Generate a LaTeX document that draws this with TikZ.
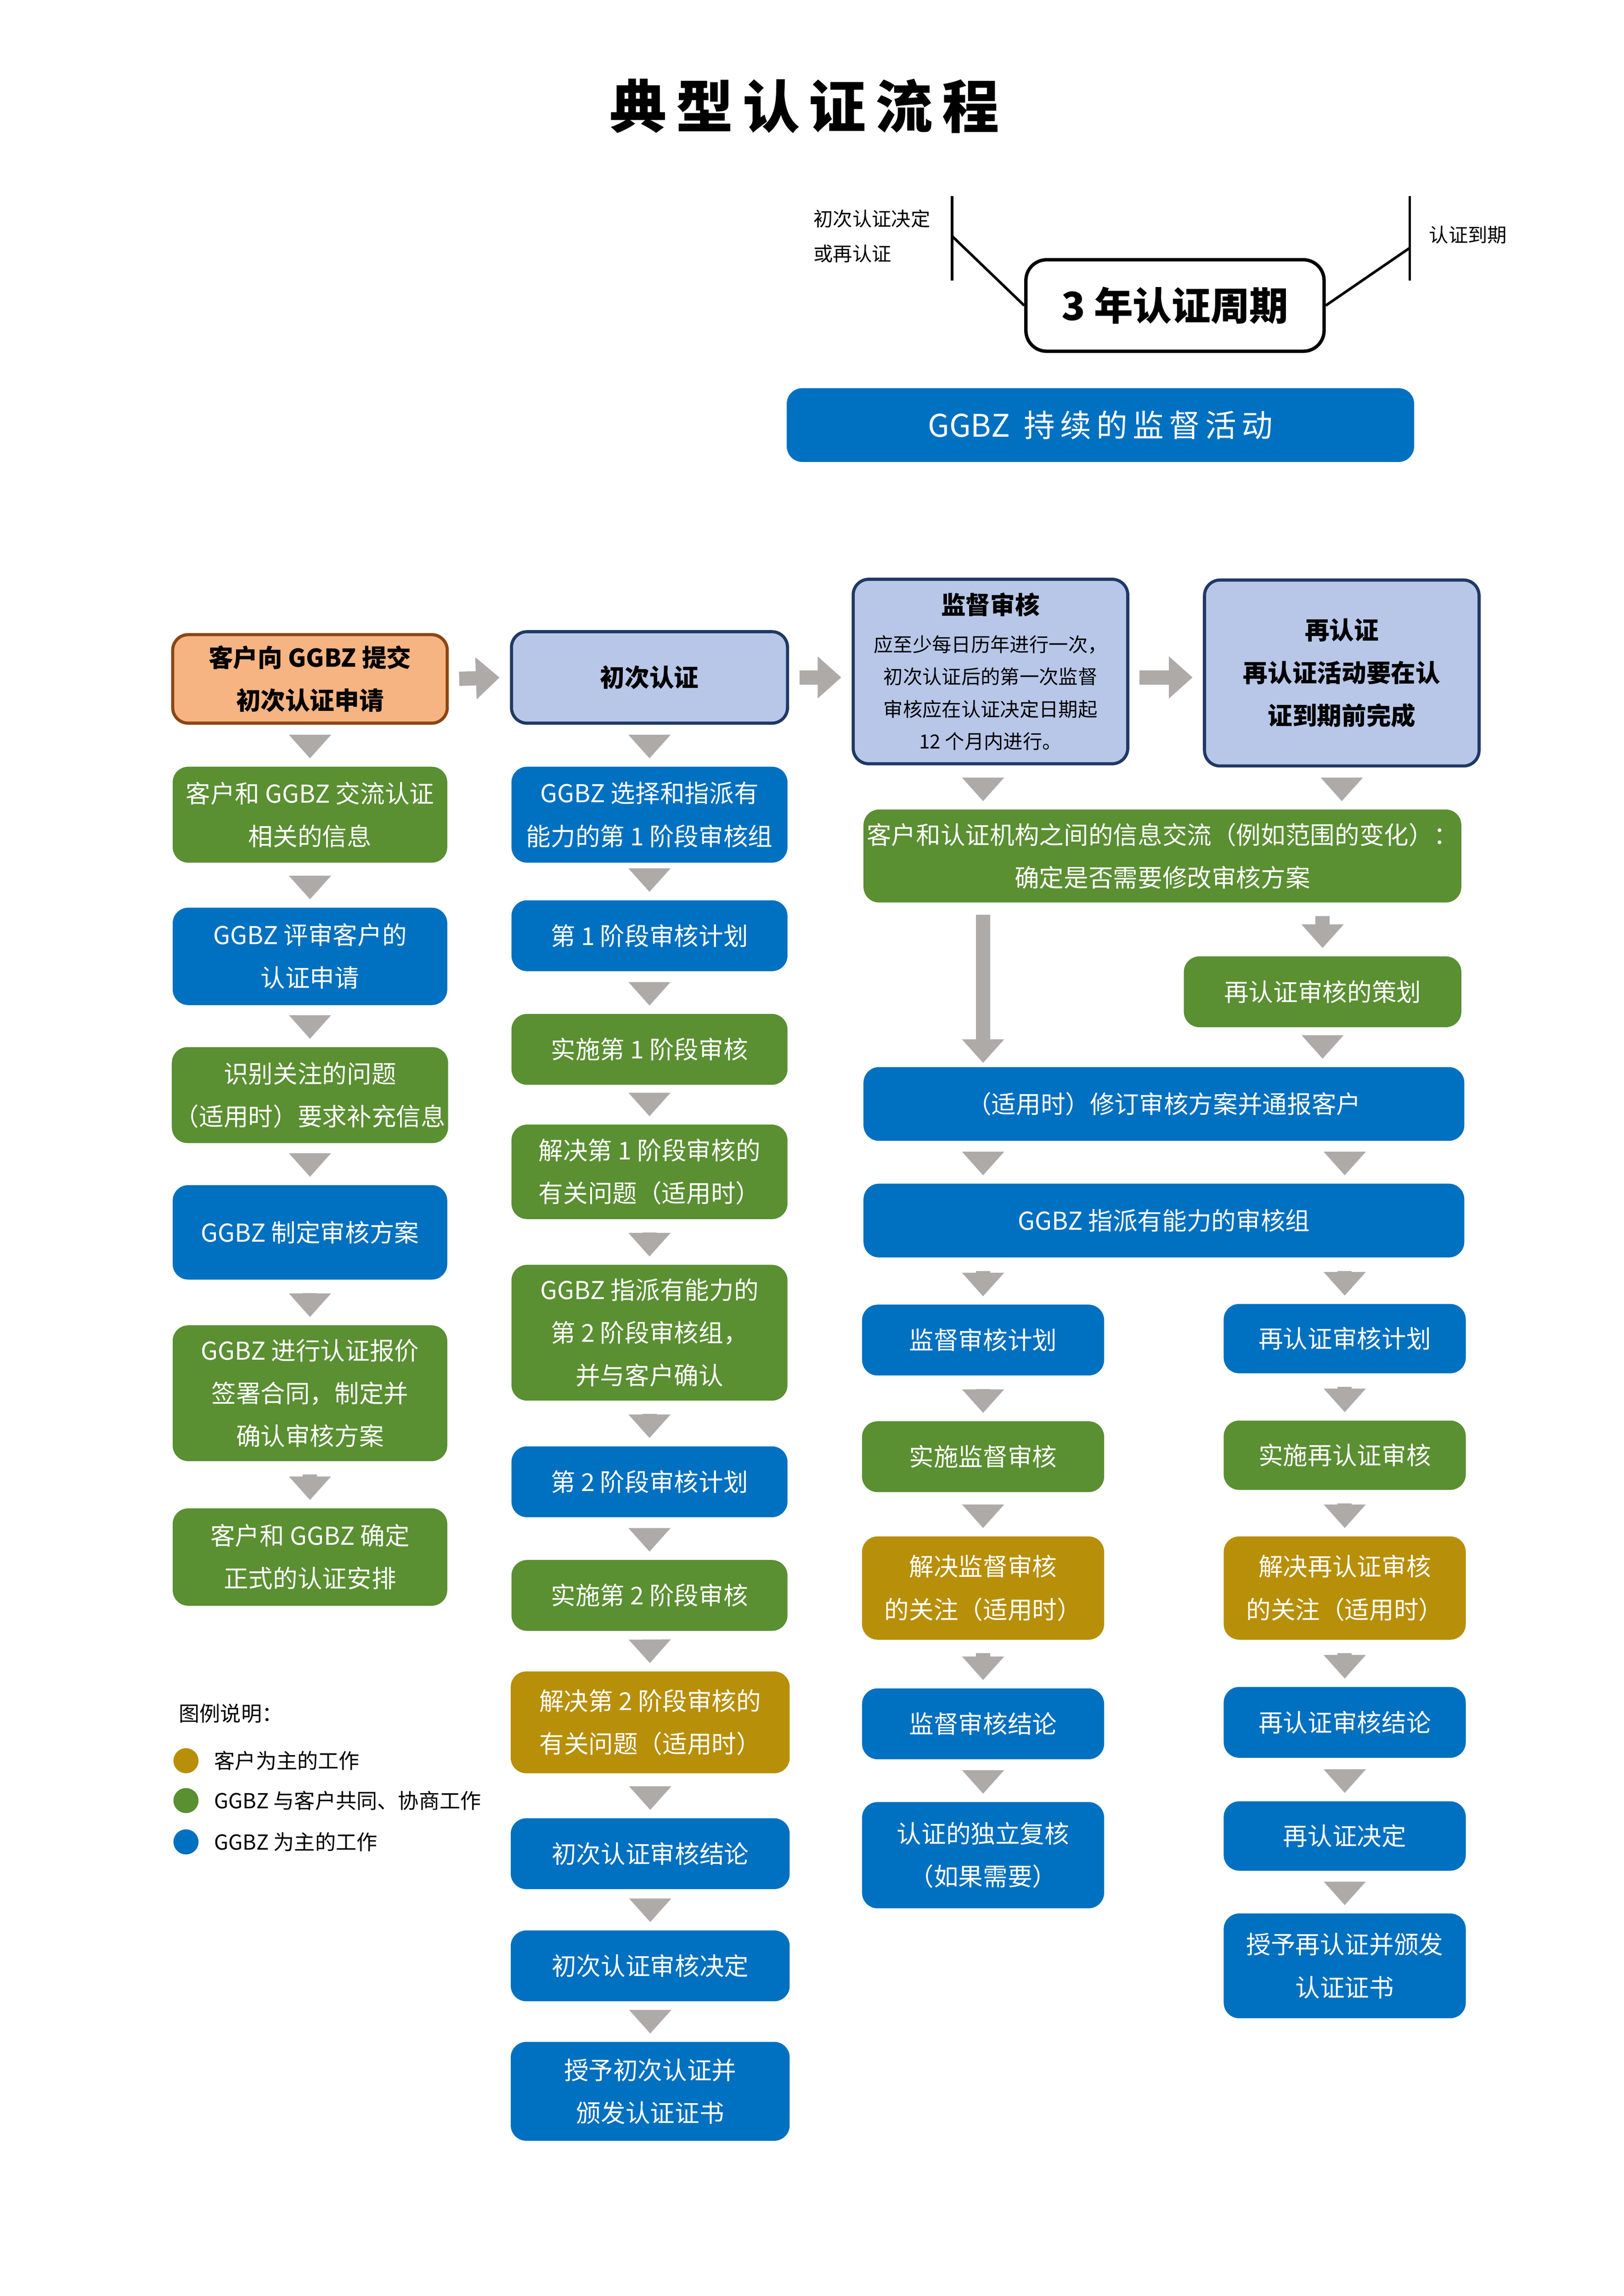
\documentclass[tikz,border=0pt]{standalone}
\usepackage{fontspec}
\setmainfont{Noto Sans CJK SC}
\usepackage{tikz}
\usetikzlibrary{arrows.meta, positioning}
\definecolor{cgreen}{HTML}{5A8F32}
\definecolor{cblue}{HTML}{0070C0}
\definecolor{cgold}{HTML}{B88F08}
\definecolor{corange}{HTML}{F5B482}
\definecolor{corangeb}{HTML}{8B4513}
\definecolor{clight}{HTML}{B8C7E8}
\definecolor{clightb}{HTML}{203864}
\definecolor{carrow}{HTML}{ADAAA8}
\tikzset{
  box/.style={rounded corners=6pt, text=white, align=center, inner sep=1pt,
    font=\fontsize{9.5}{16.5}\selectfont},
  gbox/.style={box, fill=cgreen},
  bbox/.style={box, fill=cblue},
  ybox/.style={box, fill=cgold},
  obox/.style={box, fill=corange, draw=corangeb, line width=1.2pt, text=black,
    font=\fontsize{9.5}{16.5}\selectfont\bfseries},
  lbox/.style={box, fill=clight, draw=clightb, line width=1.2pt, text=black,
    font=\fontsize{9.5}{16.5}\selectfont\bfseries},
  flow/.style={draw=carrow, line width=5.5pt,
    -{Triangle[length=0.32cm,width=0.55cm]}, shorten >=1pt, shorten <=1pt},
}
\begin{document}
\begin{tikzpicture}[x=0.02cm, y=-0.02cm]
\useasboundingbox (0,0) rectangle (1100,1555.7);
% title
\node[font=\fontsize{22}{26}\selectfont\bfseries] (title) at (545,72) {典\,型\,认\,证\,流\,程};
\node[draw, line width=1.3pt, rounded corners=8pt, minimum width=202*0.02cm, minimum height=62*0.02cm,
  font=\fontsize{15}{18}\selectfont\bfseries] (cycle) at (796,207) {3 年认证周期};
\coordinate (lt) at (645,133); \coordinate (lb) at (645,190); \coordinate (lm) at (645,160);
\coordinate (rt) at (955,133); \coordinate (rb) at (955,190); \coordinate (rm) at (955,168);
\draw[line width=1pt] (lt) -- (lb);
\draw[line width=1pt] (rt) -- (rb);
\draw[line width=1pt] (lm) -- (cycle.west);
\draw[line width=1pt] (rm) -- (cycle.east);
\node[anchor=west, align=left, font=\fontsize{7.5}{13.5}\selectfont] (start) at (545,160) {初次认证决定\\或再认证};
\node[anchor=west, font=\fontsize{7.5}{13.5}\selectfont] (end) at (962,159) {认证到期};
\node[bbox, minimum width=425*0.02cm, minimum height=50*0.02cm, font=\fontsize{12}{14}\selectfont] (watch) at (745.5,288) {GGBZ\ \ 持\,续\,的\,监\,督\,活\,动};

% column 1
\node[obox, minimum width=186*0.02cm, minimum height=60*0.02cm] (a0) at (210,460) {客户向 GGBZ 提交\\初次认证申请};
\node[gbox, minimum width=186*0.02cm, minimum height=65*0.02cm] (a1) at (210,552) {客户和 GGBZ 交流认证\\相关的信息};
\node[bbox, minimum width=186*0.02cm, minimum height=66*0.02cm] (a2) at (210,648) {GGBZ 评审客户的\\认证申请};
\node[gbox, minimum width=186*0.02cm, minimum height=65*0.02cm] (a3) at (210,742) {识别关注的问题\\（适用时）要求补充信息};
\node[bbox, minimum width=186*0.02cm, minimum height=64*0.02cm] (a4) at (210,835) {GGBZ 制定审核方案};
\node[gbox, minimum width=186*0.02cm, minimum height=92*0.02cm] (a5) at (210,944) {GGBZ 进行认证报价\\签署合同，制定并\\确认审核方案};
\node[gbox, minimum width=186*0.02cm, minimum height=66*0.02cm] (a6) at (210,1055) {客户和 GGBZ 确定\\正式的认证安排};

% column 2
\node[lbox, minimum width=187*0.02cm, minimum height=62*0.02cm] (b0) at (440,459) {初次认证};
\node[bbox, minimum width=187*0.02cm, minimum height=65*0.02cm] (b1) at (440,552) {GGBZ 选择和指派有\\能力的第 1 阶段审核组};
\node[bbox, minimum width=187*0.02cm, minimum height=48*0.02cm] (b2) at (440,634) {第 1 阶段审核计划};
\node[gbox, minimum width=187*0.02cm, minimum height=48*0.02cm] (b3) at (440,711) {实施第 1 阶段审核};
\node[gbox, minimum width=187*0.02cm, minimum height=64*0.02cm] (b4) at (440,794) {解决第 1 阶段审核的\\有关问题（适用时）};
\node[gbox, minimum width=187*0.02cm, minimum height=92*0.02cm] (b5) at (440,903) {GGBZ 指派有能力的\\第 2 阶段审核组，\\并与客户确认};
\node[bbox, minimum width=187*0.02cm, minimum height=48*0.02cm] (b6) at (440,1004) {第 2 阶段审核计划};
\node[gbox, minimum width=187*0.02cm, minimum height=48*0.02cm] (b7) at (440,1081) {实施第 2 阶段审核};
\node[ybox, minimum width=189*0.02cm, minimum height=69*0.02cm] (b8) at (440.5,1167) {解决第 2 阶段审核的\\有关问题（适用时）};
\node[bbox, minimum width=189*0.02cm, minimum height=48*0.02cm] (b9) at (440.5,1256) {初次认证审核结论};
\node[bbox, minimum width=189*0.02cm, minimum height=48*0.02cm] (b10) at (440.5,1332) {初次认证审核决定};
\node[bbox, minimum width=189*0.02cm, minimum height=67*0.02cm] (b11) at (440.5,1417) {授予初次认证并\\颁发认证证书};

% column 3 and 4 heads
\node[lbox, minimum width=186*0.02cm, minimum height=125*0.02cm, font=\fontsize{7.5}{12.5}\selectfont] (c0) at (671,455)
  {{\fontsize{9.5}{14}\selectfont\bfseries 监督审核}\\[2pt]\mdseries 应至少每日历年进行一次，\\\mdseries 初次认证后的第一次监督\\\mdseries 审核应在认证决定日期起\\\mdseries 12 个月内进行。};
\node[lbox, minimum width=186*0.02cm, minimum height=126*0.02cm] (d0) at (909,456) {再认证\\再认证活动要在认\\证到期前完成};
\node[gbox, minimum width=405*0.02cm, minimum height=63*0.02cm] (m1) at (787.5,580) {客户和认证机构之间的信息交流（例如范围的变化）：\\确定是否需要修改审核方案};
\node[gbox, minimum width=188*0.02cm, minimum height=48*0.02cm] (d1) at (896,672) {再认证审核的策划};
\node[bbox, minimum width=407*0.02cm, minimum height=50*0.02cm] (m2) at (788.5,748) {（适用时）修订审核方案并通报客户};
\node[bbox, minimum width=407*0.02cm, minimum height=50*0.02cm] (m3) at (788.5,827) {GGBZ 指派有能力的审核组};
\coordinate (m1l) at (666,618);
\coordinate (m2l) at (666,722);

% column 3
\node[bbox, minimum width=164*0.02cm, minimum height=48*0.02cm] (c1) at (666,908) {监督审核计划};
\node[gbox, minimum width=164*0.02cm, minimum height=48*0.02cm] (c2) at (666,987) {实施监督审核};
\node[ybox, minimum width=164*0.02cm, minimum height=70*0.02cm] (c3) at (666,1076) {解决监督审核\\的关注（适用时）};
\node[bbox, minimum width=164*0.02cm, minimum height=48*0.02cm] (c4) at (666,1168) {监督审核结论};
\node[bbox, minimum width=164*0.02cm, minimum height=72*0.02cm] (c5) at (666,1257) {认证的独立复核\\（如果需要）};

% column 4
\node[bbox, minimum width=164*0.02cm, minimum height=47*0.02cm] (d2) at (911,907) {再认证审核计划};
\node[gbox, minimum width=164*0.02cm, minimum height=47*0.02cm] (d3) at (911,986) {实施再认证审核};
\node[ybox, minimum width=164*0.02cm, minimum height=70*0.02cm] (d4) at (911,1076) {解决再认证审核\\的关注（适用时）};
\node[bbox, minimum width=164*0.02cm, minimum height=48*0.02cm] (d5) at (911,1167) {再认证审核结论};
\node[bbox, minimum width=164*0.02cm, minimum height=47*0.02cm] (d6) at (911,1244) {再认证决定};
\node[bbox, minimum width=164*0.02cm, minimum height=71*0.02cm] (d7) at (911,1332) {授予再认证并颁发\\认证证书};

% arrows
\foreach \u/\v in {a0/a1,a1/a2,a2/a3,a3/a4,a4/a5,a5/a6,
  b0/b1,b1/b2,b2/b3,b3/b4,b4/b5,b5/b6,b6/b7,b7/b8,b8/b9,b9/b10,b10/b11,
  c1/c2,c2/c3,c3/c4,c4/c5,d2/d3,d3/d4,d4/d5,d5/d6,d6/d7}
  \draw[flow, shorten <=5pt, shorten >=3pt] (\u) -- (\v);
\draw[flow] ([xshift=3pt]a0.east) -- ([xshift=-3pt]b0.west);
\draw[flow] ([xshift=3pt]b0.east |- b0.east) -- ([xshift=-3pt]c0.west |- b0.east);
\draw[flow] ([xshift=3pt]c0.east |- b0.east) -- ([xshift=-3pt]d0.west |- b0.east);
\draw[flow, shorten <=5pt, shorten >=3pt] (c0.south -| m1l) -- (m1.north -| m1l);
\draw[flow, shorten <=5pt, shorten >=3pt] (d0.south) -- (d0.south |- m1.north);
\draw[flow, shorten <=5pt, shorten >=3pt] (m1.south -| d1) -- (d1.north);
\draw[flow, shorten <=5pt, shorten >=3pt] (d1.south -| d1) -- (m2.north -| d1);
\draw[flow] (m1l) -- (m2l);
\draw[flow, shorten <=5pt, shorten >=3pt] (m2.south -| c1) -- (m3.north -| c1);
\draw[flow, shorten <=5pt, shorten >=3pt] (m2.south -| d2) -- (m3.north -| d2);
\draw[flow, shorten <=5pt, shorten >=3pt] (m3.south -| c1) -- (c1.north);
\draw[flow, shorten <=5pt, shorten >=3pt] (m3.south -| d2) -- (d2.north);

% legend
\node[anchor=west, font=\fontsize{8}{10}\selectfont] (leg) at (115,1161) {图例说明：};
\fill[cgold] (126,1193) circle (8.5) coordinate (k1);
\fill[cgreen] (126,1220) circle (8.5) coordinate (k2);
\fill[cblue] (126,1248) circle (8.5) coordinate (k3);
\node[anchor=west, font=\fontsize{8}{10}\selectfont] (l1) at (139,1193) {客户为主的工作};
\node[anchor=west, font=\fontsize{8}{10}\selectfont] (l2) at (139,1220) {GGBZ 与客户共同、协商工作};
\node[anchor=west, font=\fontsize{8}{10}\selectfont] (l3) at (139,1248) {GGBZ 为主的工作};
\end{tikzpicture}
\end{document}
